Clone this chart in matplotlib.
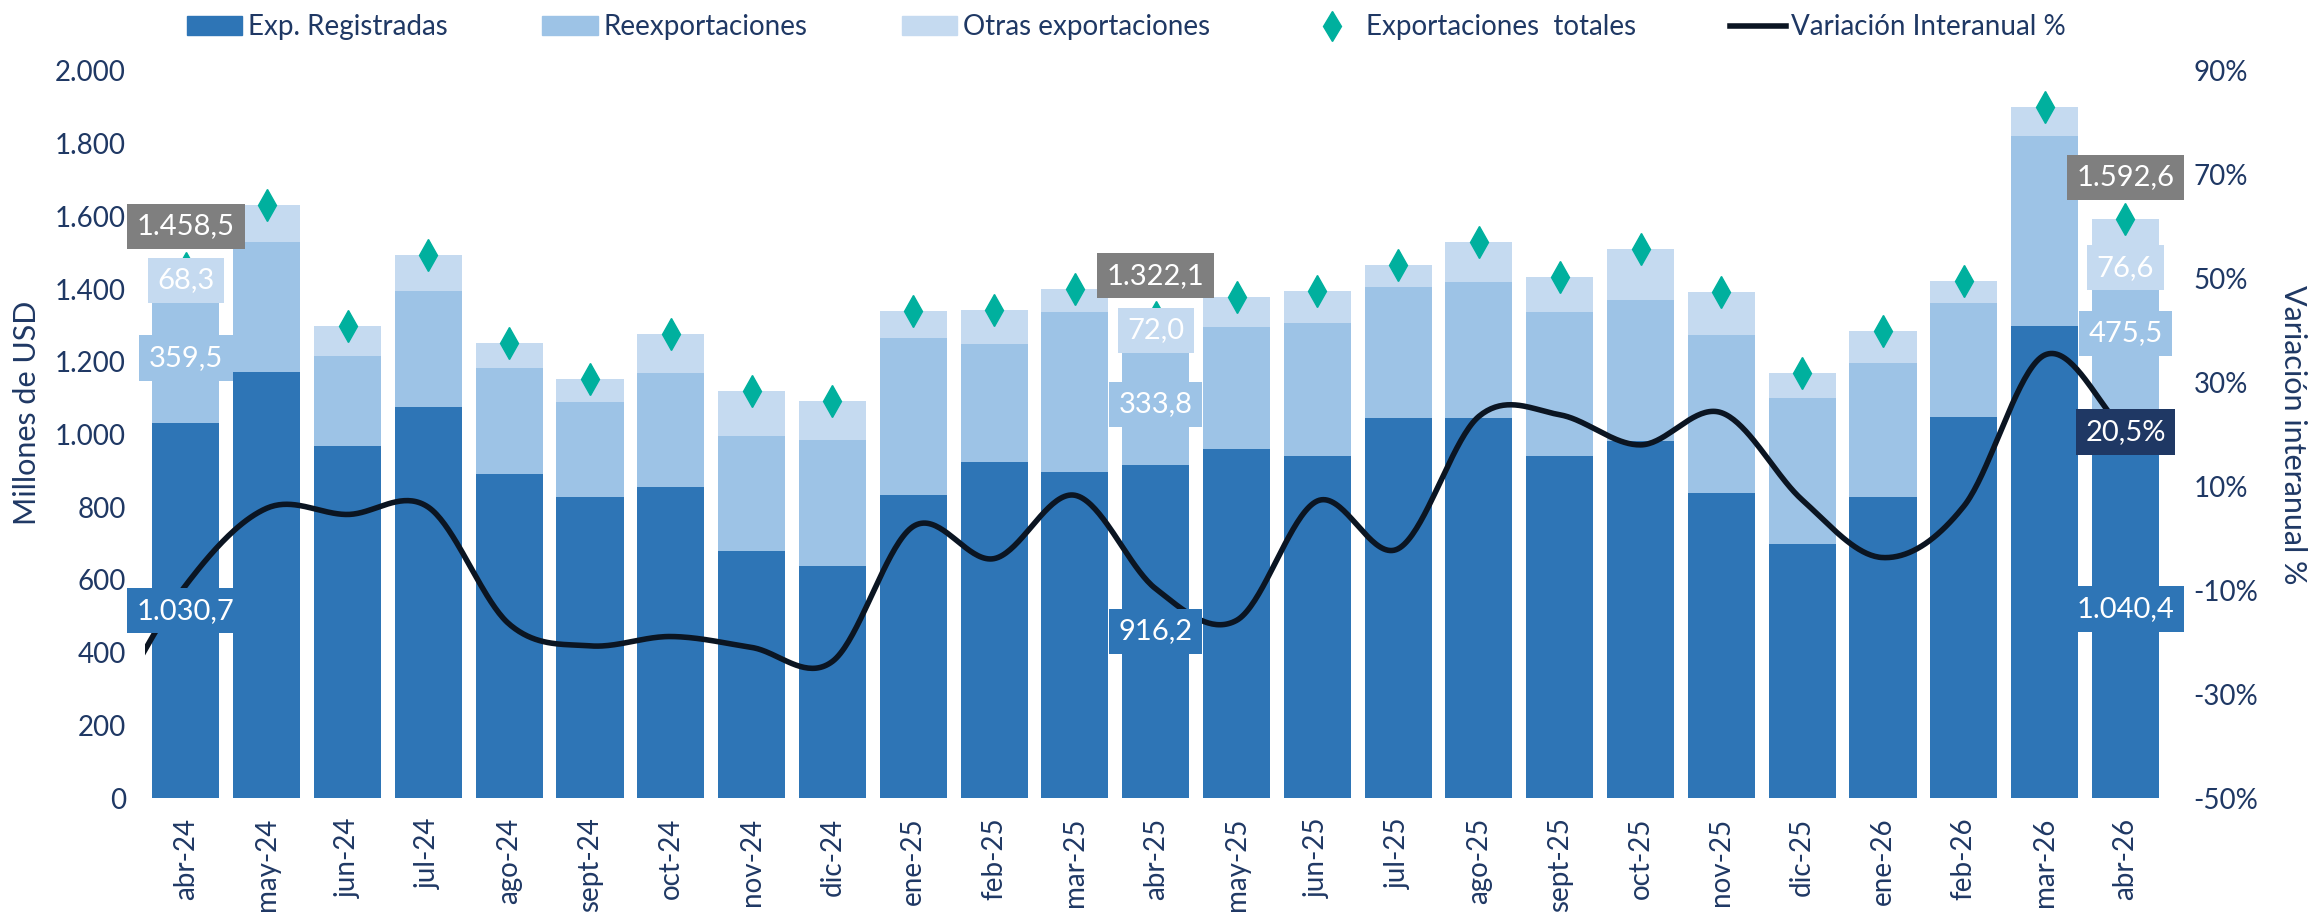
import numpy as np
import matplotlib.pyplot as plt
from matplotlib.patches import Patch
from matplotlib.lines import Line2D
from matplotlib.ticker import FuncFormatter

plt.rcParams['font.family'] = ['Lato', 'DejaVu Sans']

meses = ['abr-24', 'may-24', 'jun-24', 'jul-24', 'ago-24', 'sept-24', 'oct-24',
         'nov-24', 'dic-24', 'ene-25', 'feb-25', 'mar-25', 'abr-25', 'may-25',
         'jun-25', 'jul-25', 'ago-25', 'sept-25', 'oct-25', 'nov-25', 'dic-25',
         'ene-26', 'feb-26', 'mar-26', 'abr-26']

registradas = [1030.7, 1171, 968, 1075, 892, 828, 856, 680, 639, 834, 923, 897,
               916.2, 961, 941, 1045, 1046, 940, 982, 839, 698, 829, 1049, 1299,
               1040.4]
reexportaciones = [359.5, 359, 248, 319, 291, 262, 314, 315, 345, 432, 327, 440,
                   333.8, 336, 365, 361, 374, 398, 389, 435, 402, 368, 313, 523,
                   475.5]
otras = [68.3, 100, 82, 99, 69, 64, 107, 124, 108, 73, 92, 63,
         72.0, 82, 88, 60, 110, 96, 138, 118, 69, 87, 61, 80,
         76.6]
totales = [1458.5, 1630, 1298, 1493, 1252, 1154, 1277, 1119, 1092, 1339, 1342, 1400,
           1322.1, 1379, 1394, 1466, 1530, 1434, 1509, 1392, 1169, 1284, 1423, 1902,
           1592.6]

# variación interanual %, mar-24 only shows as the line entering from the left edge
variacion_mar24 = -35.0
variacion = [-9.0, 5.8, 4.6, 6.0, -16.5, -20.7, -18.9, -21.0, -23.7, 2.3, -3.9, 8.3,
             -9.7, -15.8, 7.2, -2.0, 23.5, 23.8, 18.0, 24.2, 7.4, -3.7, 6.2, 35.3,
             20.5]

navy = '#1F3864'
c_reg = '#2E75B6'
c_reex = '#9DC3E6'
c_otras = '#C5DAF0'
c_tot = '#00B09E'
c_line = '#0B1522'
c_gris = '#7F7F7F'

reg = np.array(registradas)
reex = np.array(reexportaciones)
otr = np.array(otras)
tot = np.array(totales)
x = np.arange(len(meses))


def fmt_es(v, dec=1):
    s = f"{v:,.{dec}f}"
    return s.replace(',', 'X').replace('.', ',').replace('X', '.')


def suavizar(xs, ys, n=40):
    # curva tipo "línea suavizada" de Excel (Catmull-Rom)
    xs = np.asarray(xs, float)
    ys = np.asarray(ys, float)
    px = np.concatenate([[2 * xs[0] - xs[1]], xs, [2 * xs[-1] - xs[-2]]])
    py = np.concatenate([[2 * ys[0] - ys[1]], ys, [2 * ys[-1] - ys[-2]]])
    t = np.linspace(0, 1, n, endpoint=False)
    ox, oy = [], []
    for i in range(1, len(px) - 2):
        for p, o in ((px, ox), (py, oy)):
            p0, p1, p2, p3 = p[i - 1], p[i], p[i + 1], p[i + 2]
            o.extend(0.5 * (2 * p1 + (-p0 + p2) * t
                            + (2 * p0 - 5 * p1 + 4 * p2 - p3) * t ** 2
                            + (-p0 + 3 * p1 - 3 * p2 + p3) * t ** 3))
    ox.append(xs[-1])
    oy.append(ys[-1])
    return np.array(ox), np.array(oy)


fig = plt.figure(figsize=(23.13, 9.16), dpi=100)
ax = fig.add_axes([0.0629, 0.1288, 0.8735, 0.7937])
ax2 = ax.twinx()

w = 0.83
ax.bar(x, reg, w, color=c_reg, zorder=2)
ax.bar(x, reex, w, bottom=reg, color=c_reex, zorder=2)
ax.bar(x, otr, w, bottom=reg + reex, color=c_otras, zorder=2)
ax.plot(x, tot, ls='none', marker='d', markersize=16, color=c_tot, zorder=3)

lx, ly = suavizar(np.concatenate([[-1], x]), [variacion_mar24] + variacion)
ax2.plot(lx, ly, color=c_line, lw=4, zorder=2)

ax.set_xlim(-0.5, len(meses) - 0.5)
ax.set_ylim(0, 2000)
ax2.set_ylim(-50, 90)
ax.set_yticks(np.arange(0, 2001, 200))
ax2.set_yticks(np.arange(-50, 91, 20))
ax.yaxis.set_major_formatter(FuncFormatter(lambda v, p: f"{int(v):,}".replace(',', '.')))
ax2.yaxis.set_major_formatter(FuncFormatter(lambda v, p: f"{int(v)}%"))
ax.set_xticks(x)
ax.set_xticklabels(meses, rotation=90)

for a in (ax, ax2):
    for s in a.spines.values():
        s.set_visible(False)
ax.tick_params(axis='y', length=0, labelsize=20, colors=navy, pad=14)
ax.tick_params(axis='x', length=0, labelsize=20, colors=navy, pad=14)
ax2.tick_params(axis='y', length=0, labelsize=20, colors=navy, pad=20)

ax.set_ylabel('Millones de USD', fontsize=22, color=navy, va='center')
ax.yaxis.set_label_coords(-0.0586, 0.53)
ax2.set_ylabel('Variación interanual %', fontsize=22, color=navy, rotation=270, va='center')
ax2.yaxis.set_label_coords(1.063, 0.5)


def etiqueta(xv, yv, texto, fc, dy=0):
    ax2.annotate(texto, xy=(xv, yv), xycoords=ax.transData,
                 xytext=(0, dy), textcoords='offset points',
                 ha='center', va='center', fontsize=21, color='white',
                 bbox=dict(boxstyle='square,pad=0.33', fc=fc, ec='none'),
                 zorder=6)


for i in (0, 12, 24):
    etiqueta(i, reg[i] / 2, fmt_es(reg[i]), c_reg)
    etiqueta(i, reg[i] + reex[i] / 2, fmt_es(reex[i]), c_reex)
    # la etiqueta de abr-26 queda desplazada hacia abajo en el original
    etiqueta(i, reg[i] + reex[i] + otr[i] / 2, fmt_es(otr[i]), c_otras,
             dy=-25 if i == 24 else 0)
    etiqueta(i, tot[i], fmt_es(tot[i]), c_gris, dy=30)

ax2.annotate(fmt_es(variacion[-1]) + '%', xy=(x[-1], variacion[-1]),
             ha='center', va='center', fontsize=21, color='white',
             bbox=dict(boxstyle='square,pad=0.33', fc=navy, ec='none'), zorder=6)

handles = [Patch(color=c_reg), Patch(color=c_reex), Patch(color=c_otras),
           Line2D([], [], ls='none', marker='d', markersize=15, color=c_tot),
           Line2D([], [], color=c_line, lw=4)]
labels = ['Exp. Registradas', 'Reexportaciones', 'Otras exportaciones',
          'Exportaciones  totales', 'Variación Interanual %']
fig.legend(handles, labels, loc='center', bbox_to_anchor=(0.487, 0.97), ncol=5,
           frameon=False, fontsize=20, columnspacing=3.4, handlelength=2.0,
           handletextpad=0.2, labelcolor=navy)

fig.savefig('out.png', dpi=100)
